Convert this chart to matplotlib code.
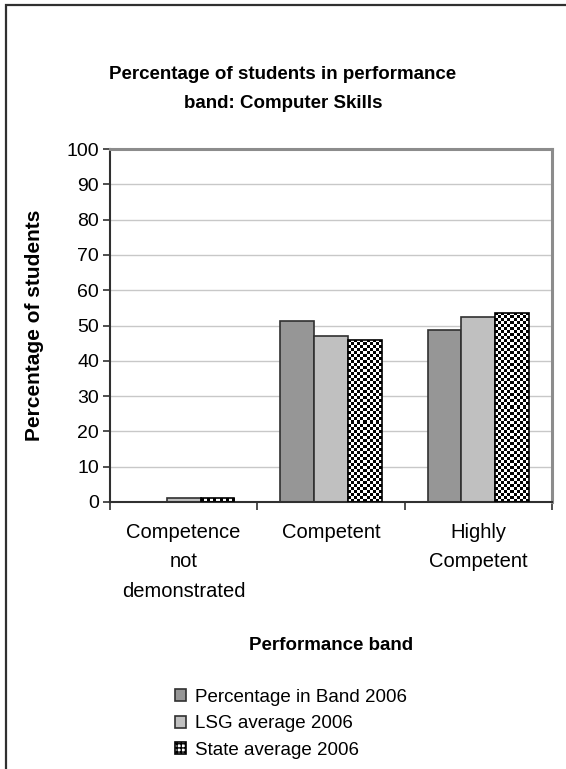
import numpy as np
import matplotlib
matplotlib.use("Agg")
import matplotlib.pyplot as plt
from matplotlib.patches import Patch, Rectangle

plt.rcParams['font.family'] = ['Liberation Sans', 'DejaVu Sans']

# data
categories = ["Competence\nnot\ndemonstrated", "Competent", "Highly\nCompetent"]
band_2006 = [0.0, 51.4, 48.6]
lsg_avg_2006 = [1.0, 47.0, 52.4]
state_avg_2006 = [1.0, 45.9, 53.6]
series_names = ["Percentage in Band 2006", "LSG average 2006", "State average 2006"]
y_ticks = list(range(0, 101, 10))

W, H = 566, 769
fig = plt.figure(figsize=(W / 100, H / 100), dpi=100)

# outer chart frame (cropped at right/bottom in the original)
fig.patches.append(Rectangle((6 / W, -0.05), 1.2, 1 - 5 / H + 0.05, transform=fig.transFigure,
                             fill=False, edgecolor='#303030', linewidth=1.6))

ax = fig.add_axes([110 / W, 1 - 502 / H, 442 / W, 353 / H])

x = np.arange(len(categories))
bw = 0.229
edge = '#303030'
ax.bar(x - bw, band_2006, bw, color='#969696', edgecolor=edge, linewidth=1.2, zorder=2)
ax.bar(x, lsg_avg_2006, bw, color='#C0C0C0', edgecolor=edge, linewidth=1.2, zorder=2)
state_bars = ax.bar(x + bw, state_avg_2006, bw, color='white', edgecolor='none', zorder=2)

ax.set_xlim(-0.5, len(categories) - 0.5)
ax.set_ylim(0, 100)

# checkerboard fill for the state bars
px_x = 442 / 3.0
px_y = 353 / 100.0
cell = 3.0
for b in state_bars:
    bx, by, bwid, bh = b.get_x(), b.get_y(), b.get_width(), b.get_height()
    if bh <= 0:
        continue
    nc = max(1, int(round(bwid * px_x / cell)))
    nr = max(1, int(round(bh * px_y / cell)))
    chk = (np.add.outer(np.arange(nr), np.arange(nc)) % 2).astype(float)
    im = ax.imshow(chk, cmap='gray', vmin=0, vmax=1, extent=(bx, bx + bwid, by, by + bh),
                   aspect='auto', interpolation='nearest', zorder=2.5)
    im.set_clip_path(b)
ax.bar(x + bw, state_avg_2006, bw, fill=False, edgecolor='black', linewidth=1.2, zorder=3)

ax.set_aspect('auto')
ax.set_xlim(-0.5, len(categories) - 0.5)
ax.set_ylim(0, 100)

ax.set_yticks(y_ticks)
ax.yaxis.grid(True, color='#C8C8C8', linewidth=1.0, zorder=0)
ax.set_axisbelow(True)
ax.tick_params(axis='y', length=5, width=1.2, color='#303030', labelsize=14, pad=3)

ax.set_xticks(np.arange(len(categories) + 1) - 0.5)
ax.set_xticklabels([])
ax.set_xticks(x, minor=True)
ax.set_xticklabels(categories, minor=True, fontsize=14.5, linespacing=1.69)
ax.tick_params(axis='x', which='major', length=6, width=1.2, color='#303030')
ax.tick_params(axis='x', which='minor', length=0, pad=15)

for s in ['left', 'bottom']:
    ax.spines[s].set_color('#303030')
    ax.spines[s].set_linewidth(1.5)
for s in ['top', 'right']:
    ax.spines[s].set_color('#8C8C8C')
    ax.spines[s].set_linewidth(2.2)

fig.text(0.5, 1 - 89 / H, "Percentage of students in performance\nband: Computer Skills",
         ha='center', va='center', fontsize=13.5, fontweight='bold', linespacing=1.93)
fig.text(35 / W, 1 - 325 / H, "Percentage of students", rotation=90, ha='center', va='center',
         fontsize=15, fontweight='bold')
fig.text(331 / W, 1 - 645 / H, "Performance band", ha='center', va='center',
         fontsize=13.5, fontweight='bold')

handles = [Patch(facecolor='#969696', edgecolor=edge, linewidth=1.2),
           Patch(facecolor='#C0C0C0', edgecolor=edge, linewidth=1.2),
           Patch(facecolor='white', edgecolor='black', hatch='++++', linewidth=1.2)]
fig.legend(handles, series_names, loc='upper left', bbox_to_anchor=(175 / W, 1 - 689 / H),
           frameon=False, fontsize=13.5, handlelength=0.6, handleheight=0.6,
           handletextpad=0.45, labelspacing=0.5, borderpad=0, borderaxespad=0)

fig.savefig("out.png", dpi=100)
